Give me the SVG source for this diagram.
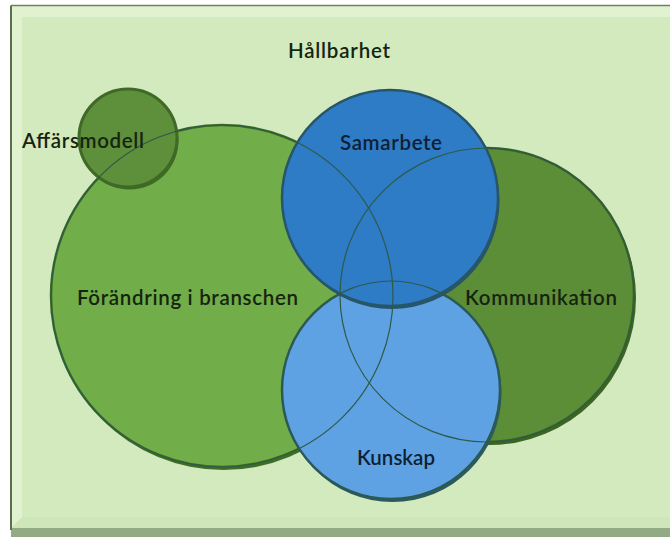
<svg xmlns="http://www.w3.org/2000/svg" width="670" height="537" viewBox="0 0 670 537">
  <defs>
    <style>
      .lbl { font-family: Lato, "Open Sans", "Liberation Sans", sans-serif; font-size: 20.5px; font-weight: 600; fill: #16240f; }
      .lbl-b { fill: #0f1f33; }
      .thin { fill: none; stroke: #2e5a4a; stroke-width: 1.2; }
    </style>
  </defs>

  <!-- page background -->
  <rect x="0" y="0" width="670" height="537" fill="#ffffff"/>

  <!-- bevelled frame -->
  <g id="frame">
    <rect x="11" y="6" width="659" height="524" fill="#d3eabf"/>
    <polygon points="11,6 670,6 670,17 22,17 22,528 11,530" fill="#e1f2d1"/>
    <polygon points="11,528 670,528 670,537 11,537" fill="#93ab84"/>
    <polygon points="22,517 670,517 670,528 11,528" fill="#cfe5ba"/>
    <line x1="11" y1="5.5" x2="670" y2="5.5" stroke="#6f8063" stroke-width="1.5"/>
    <line x1="11" y1="5.5" x2="11" y2="530" stroke="#5d6f52" stroke-width="2"/>
  </g>

  <!-- large light-green circle -->
  <g id="forandring">
    <circle cx="223.5" cy="299" r="171" fill="#3e6e24"/>
    <circle cx="222" cy="296" r="171" fill="#71ad49" stroke="#3e6e24" stroke-width="2.5"/>
  </g>

  <!-- dark-green circle on the right -->
  <g id="kommunikation">
    <circle cx="489" cy="298" r="147" fill="#3b6620"/>
    <circle cx="487" cy="295" r="147" fill="#5c8d37" stroke="#3b6620" stroke-width="2.5"/>
  </g>

  <!-- small dark-green circle -->
  <g id="affarsmodell">
    <circle cx="129.5" cy="140.5" r="49" fill="#3e6a26"/>
    <circle cx="128" cy="138" r="49" fill="#5e8f3a" stroke="#3e6a26" stroke-width="3"/>
  </g>

  <!-- light-blue circle -->
  <g id="kunskap">
    <circle cx="392.5" cy="393" r="109" fill="#2b5b60"/>
    <circle cx="391" cy="390" r="109" fill="#5fa2e3" stroke="#2b5b60" stroke-width="2.5"/>
  </g>

  <!-- blue circle -->
  <g id="samarbete">
    <circle cx="391.5" cy="201" r="108" fill="#27566a"/>
    <circle cx="390" cy="198" r="108" fill="#2e7bc6" stroke="#27566a" stroke-width="2.5"/>
  </g>

  <!-- hidden outlines showing through the upper circles -->
  <g id="connectors">
    <circle class="thin" cx="222" cy="296" r="171" stroke="#3a6a30"/>
    <circle class="thin" cx="487" cy="295" r="147"/>
    <circle class="thin" cx="391" cy="390" r="109"/>
  </g>

  <!-- labels -->
  <g id="labels">
    <text class="lbl" x="288" y="58" textLength="102">Hållbarhet</text>
    <text class="lbl" x="22" y="148" textLength="122">Affärsmodell</text>
    <text class="lbl lbl-b" x="340" y="150" textLength="102">Samarbete</text>
    <text class="lbl" x="77" y="305" textLength="221">Förändring i branschen</text>
    <text class="lbl" x="465" y="305" textLength="152">Kommunikation</text>
    <text class="lbl lbl-b" x="357" y="465" textLength="78">Kunskap</text>
  </g>
</svg>
